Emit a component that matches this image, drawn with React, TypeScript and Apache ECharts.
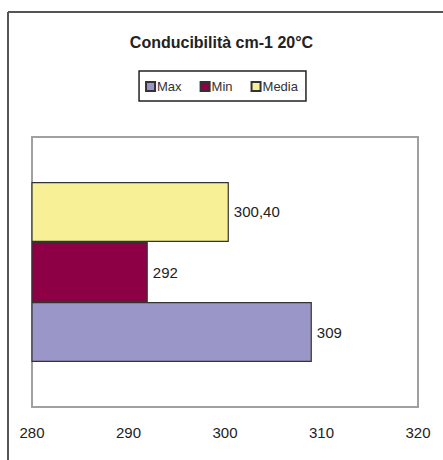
import React, { useEffect, useRef } from "react";
import * as echarts from "echarts";

const titleText = "Conducibilità cm-1 20°C";
const categories = ["Conducibilità"];
const seriesNames = ["Max", "Min", "Media"];
const maxValues = [309];
const minValues = [292];
const mediaValues = [300.4];
const valueLabels: Record<string, string> = { Max: "309", Min: "292", Media: "300,40" };
const axisMin = 280;
const axisMax = 320;
const axisInterval = 10;

const FONT = "'Liberation Sans', Arial, Helvetica, sans-serif";
const colorByName: Record<string, string> = { Max: "#9b96c8", Min: "#8e0046", Media: "#f8f096" };
const dataByName: Record<string, number[]> = { Max: maxValues, Min: minValues, Media: mediaValues };
// drawing order: first series sits at the top of the band in a horizontal bar chart
const drawOrder = ["Media", "Min", "Max"];

export default function App() {
  const ref = useRef<HTMLDivElement>(null);
  useEffect(() => {
    if (!ref.current) return;
    const chart = echarts.init(ref.current, undefined, { renderer: "svg" });
    chart.setOption({
      animation: false,
      backgroundColor: "#ffffff",
      textStyle: { fontFamily: FONT },
      title: {
        text: titleText,
        left: "center",
        top: 29,
        textStyle: { fontFamily: FONT, fontSize: 16, fontWeight: "bold", color: "#222" },
      },
      legend: {
        data: seriesNames,
        left: "center",
        top: 71,
        padding: [9, 8, 8, 6],
        borderColor: "#222",
        borderWidth: 1.5,
        itemWidth: 9,
        itemHeight: 9,
        itemGap: 18,
        icon: "rect",
        textStyle: { fontFamily: FONT, fontSize: 13, color: "#333", padding: [0, 0, 0, -3] },
      },
      grid: {
        left: 32,
        top: 137,
        right: 25,
        bottom: 53,
        show: true,
        borderColor: "#a0a0a0",
        borderWidth: 2,
        backgroundColor: "#ffffff",
      },
      xAxis: {
        type: "value",
        min: axisMin,
        max: axisMax,
        interval: axisInterval,
        axisLine: { show: false },
        axisTick: { show: false },
        splitLine: { show: false },
        axisLabel: { fontFamily: FONT, fontSize: 15, color: "#222", margin: 18 },
      },
      yAxis: {
        type: "category",
        data: categories,
        axisLine: { show: false },
        axisTick: { show: false },
        axisLabel: { show: false },
        splitLine: { show: false },
      },
      graphic: [
        {
          type: "line",
          shape: { x1: 8, y1: 12, x2: 443, y2: 12 },
          style: { stroke: "#555", lineWidth: 2 },
          z: 10,
        },
        {
          type: "line",
          shape: { x1: 8, y1: 12, x2: 8, y2: 460 },
          style: { stroke: "#555", lineWidth: 2 },
          z: 10,
        },
      ],
      series: drawOrder.map((name) => ({
        name,
        type: "bar",
        data: dataByName[name],
        barGap: "0%",
        barCategoryGap: "33.3%",
        itemStyle: { color: colorByName[name], borderColor: "#333", borderWidth: 1.2 },
        label: {
          show: true,
          position: "right",
          distance: 5,
          fontFamily: FONT,
          fontSize: 15,
          color: "#222",
          formatter: () => valueLabels[name],
        },
      })),
    });
    return () => chart.dispose();
  }, []);
  return (
    <div
      ref={ref}
      style={{ position: "absolute", left: 0, top: 0, width: 443, height: 460 }}
    />
  );
}
